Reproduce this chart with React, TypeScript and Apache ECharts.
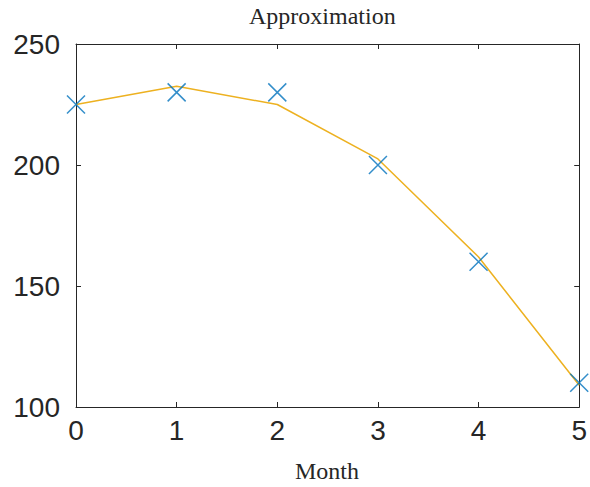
import React, { useEffect, useRef } from "react";
import * as echarts from "echarts";

const months = [0, 1, 2, 3, 4, 5];
const observed = [225, 230, 230, 200, 160, 110];
const approximation = [225, 232.5, 225, 202.5, 162, 109];
const xTicks = [0, 1, 2, 3, 4, 5];
const yTicks = [100, 150, 200, 250];

const AXIS = "#262626";
const SANS = "'Liberation Sans', Arial, Helvetica, sans-serif";
const SERIF = "'Liberation Serif', 'Times New Roman', serif";

export default function App() {
  const ref = useRef<HTMLDivElement>(null);
  useEffect(() => {
    if (!ref.current) return;
    const chart = echarts.init(ref.current, null, { renderer: "svg" });
    const axisCommon = {
      axisLine: { show: true, onZero: false, lineStyle: { color: AXIS, width: 1 } },
      axisTick: { show: true, inside: true, length: 5, lineStyle: { color: AXIS, width: 1 } },
      splitLine: { show: false },
    };
    chart.setOption({
      animation: false,
      backgroundColor: "#ffffff",
      grid: { left: 76, right: 8, top: 44, bottom: 80, containLabel: false },
      xAxis: [
        {
          type: "value",
          min: xTicks[0],
          max: xTicks[xTicks.length - 1],
          interval: 1,
          ...axisCommon,
          axisLabel: { color: AXIS, fontFamily: SANS, fontSize: 28, margin: 9 },
        },
        {
          type: "value",
          position: "top",
          min: xTicks[0],
          max: xTicks[xTicks.length - 1],
          interval: 1,
          ...axisCommon,
          axisLabel: { show: false },
        },
      ],
      yAxis: [
        {
          type: "value",
          min: yTicks[0],
          max: yTicks[yTicks.length - 1],
          interval: 50,
          ...axisCommon,
          axisLabel: { color: AXIS, fontFamily: SANS, fontSize: 28, margin: 16 },
        },
        {
          type: "value",
          position: "right",
          min: yTicks[0],
          max: yTicks[yTicks.length - 1],
          interval: 50,
          ...axisCommon,
          axisLabel: { show: false },
        },
      ],
      graphic: [
        {
          type: "text",
          left: 249,
          top: 4,
          style: { text: "Approximation", font: `24px ${SERIF}`, fill: "#262626" },
        },
        {
          type: "text",
          left: 295,
          top: 459,
          style: { text: "Month", font: `24px ${SERIF}`, fill: "#262626" },
        },
      ],
      series: [
        {
          type: "line",
          data: months.map((m, i) => [m, approximation[i]]),
          symbol: "none",
          lineStyle: { color: "#EDB120", width: 1.5 },
          clip: false,
          z: 2,
        },
        {
          type: "scatter",
          data: months.map((m, i) => [m, observed[i]]),
          symbol: "path://M0,0L10,10M10,0L0,10",
          symbolSize: 18,
          itemStyle: { color: "none", borderColor: "#0072BD", borderWidth: 1.5 },
          clip: false,
          z: 3,
        },
      ],
    });
    return () => chart.dispose();
  }, []);
  return (
    <div
      ref={ref}
      style={{ position: "fixed", left: 0, top: 0, width: 590, height: 487 }}
    />
  );
}
